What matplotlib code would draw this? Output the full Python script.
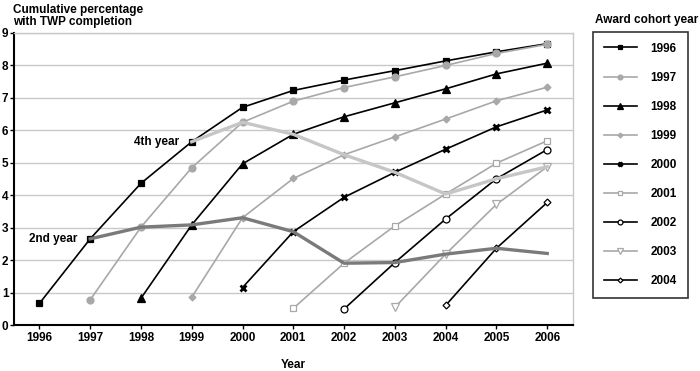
import matplotlib.pyplot as plt

plt.rcParams['font.family'] = ['Liberation Sans', 'DejaVu Sans']
plt.rcParams['font.weight'] = 'bold'

years = list(range(1996, 2007))

# cumulative % by cohort, starting from the award year
c1996 = [0.67, 2.66, 4.37, 5.65, 6.71, 7.23, 7.55, 7.84, 8.14, 8.42, 8.67]
c1997 = [0.78, 3.02, 4.85, 6.25, 6.90, 7.32, 7.65, 8.00, 8.37, 8.65]
c1998 = [0.83, 3.09, 4.97, 5.88, 6.42, 6.85, 7.28, 7.74, 8.07]
c1999 = [0.86, 3.31, 4.52, 5.25, 5.80, 6.35, 6.91, 7.33]
c2000 = [1.16, 2.88, 3.94, 4.71, 5.42, 6.11, 6.63]
c2001 = [0.52, 1.91, 3.06, 4.04, 4.99, 5.68]
c2002 = [0.50, 1.93, 3.27, 4.51, 5.41]
c2003 = [0.55, 2.19, 3.72, 4.88]
c2004 = [0.61, 2.37, 3.78]

second_years = list(range(1997, 2007))
second_year = [2.66, 3.02, 3.09, 3.31, 2.88, 1.91, 1.93, 2.19, 2.37, 2.21]
fourth_years = list(range(1999, 2007))
fourth_year = [5.65, 6.25, 5.88, 5.25, 4.71, 4.04, 4.51, 4.88]

black = 'black'
grey = '#a8a8a8'

fig = plt.figure(figsize=(7, 3.71), dpi=100)
ax = fig.add_axes([0.02, 0.1234, 0.798, 0.7877])

series = [
    ('1996', c1996, black, 's', black, 5),
    ('1997', c1997, grey, 'o', grey, 5),
    ('1998', c1998, black, '^', black, 5.5),
    ('1999', c1999, grey, 'D', grey, 3.5),
    ('2000', c2000, black, 'x', black, 5),
    ('2001', c2001, grey, 's', 'white', 5),
    ('2002', c2002, black, 'o', 'white', 5),
    ('2003', c2003, grey, 'v', 'white', 5.5),
    ('2004', c2004, black, 'D', 'white', 3.5),
]

handles = []
for label, vals, col, mk, fc, ms in series:
    start = int(label)
    xs = list(range(start, start + len(vals)))
    mew = 2 if mk == 'x' else 0.9
    h, = ax.plot(xs, vals, color=col, lw=1.2, marker=mk, markersize=ms,
                 markerfacecolor=fc, markeredgecolor=col, markeredgewidth=mew,
                 label=label, zorder=3)
    handles.append(h)

ax.plot(second_years, second_year, color='#7a7a7a', lw=2.4, zorder=4)
ax.plot(fourth_years, fourth_year, color='#c6c6c6', lw=2.4, zorder=4)

ax.text(1997 - 0.25, 2.66, '2nd year', ha='right', va='center', fontsize=8.5,
        fontweight='bold')
ax.text(1999 - 0.25, 5.65, '4th year', ha='right', va='center', fontsize=8.5,
        fontweight='bold')

ax.set_xlim(1995.5, 2006.5)
ax.set_ylim(0, 9)
ax.set_xticks(years)
ax.set_yticks(range(0, 10))
ax.tick_params(axis='both', labelsize=8.5, length=3, width=1, pad=2)
ax.tick_params(axis='y', pad=1)
for t in ax.get_xticklabels() + ax.get_yticklabels():
    t.set_fontweight('bold')
ax.yaxis.grid(True, color='#c8c8c8', lw=1)
ax.set_axisbelow(True)
for s in ['left', 'bottom']:
    ax.spines[s].set_linewidth(1.5)
    ax.spines[s].set_color('black')
for s in ['top', 'right']:
    ax.spines[s].set_linewidth(1)
    ax.spines[s].set_color('#c8c8c8')

ax.set_xlabel('Year', fontsize=8.5, fontweight='bold', labelpad=11)
fig.text(0.018, 0.99, 'Cumulative percentage\nwith TWP completion', ha='left',
         va='top', fontsize=8.5, fontweight='bold', linespacing=1.05)
fig.text(0.85, 0.945, 'Award cohort year', ha='left', va='center',
         fontsize=8.5, fontweight='bold')

leg = fig.legend(handles=handles, loc='upper left', bbox_to_anchor=(0.847, 0.914),
                 frameon=True, fancybox=False, fontsize=8.5, handlelength=2.8,
                 handletextpad=1.2, labelspacing=1.45, borderpad=0.9,
                 borderaxespad=0, markerscale=0.7)
leg.get_frame().set_edgecolor('black')
leg.get_frame().set_linewidth(1.2)
for t in leg.get_texts():
    t.set_fontweight('bold')

fig.savefig('out.png', dpi=100)
